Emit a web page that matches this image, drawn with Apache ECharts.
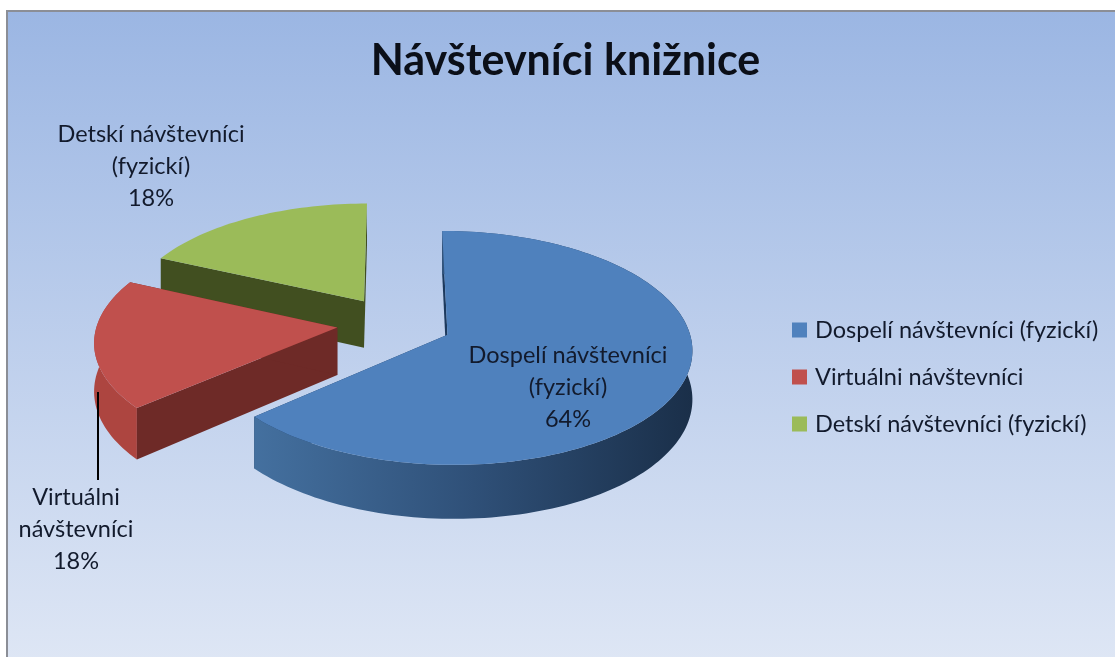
<!DOCTYPE html>
<html>
<head>
<meta charset="utf-8">
<style>
  html, body { margin: 0; padding: 0; background: #fff; }
  #chart { width: 1115px; height: 657px; }
</style>
<script src="https://cdn.jsdelivr.net/npm/echarts@6/dist/echarts.min.js"></script>
</head>
<body>
<div id="chart"></div>
<script>
const chartTitle = 'Návštevníci knižnice'
const categories = ['Dospelí návštevníci (fyzickí)', 'Virtuálni návštevníci', 'Detskí návštevníci (fyzickí)']
const values = [63.6, 18.2, 18.2]
const labelLines = [
  ['Dospelí návštevníci', '(fyzickí)'],
  ['Virtuálni', 'návštevníci'],
  ['Detskí návštevníci', '(fyzickí)']
]

const FONT = 'Lato'
const TEXT = '#121a2c'
const topColors = ['#4f81bd', '#c0504d', '#9bbb59']
const radialColors = ['#1d3a5e', '#6e2a27', '#414f20']
const labelPos = [[568, 387], [76, 529], [151, 166]]

// pie projection: flat disk seen at an angle, front edge nearer the viewer
const pie = { cx: 394.5, cy: 323.5, rx: 240, ry: 113, persp: 0.11, depth: 47.5, explode: 0.24 }

const total = values.reduce((a, b) => a + b, 0)
const slices = []
let acc = 0
values.forEach((v) => {
  const start = acc / total * Math.PI * 2
  acc += v
  slices.push({ start, end: acc / total * Math.PI * 2 })
})

function project(x, y, drop) {
  const s = 1 / (1 - pie.persp * y)
  return [pie.cx + pie.rx * x * s, pie.cy + pie.ry * y * s + (drop || 0) * s]
}

function sliceGeom(i) {
  const { start, end } = slices[i]
  const mid = (start + end) / 2
  const ox = Math.sin(mid) * pie.explode
  const oy = -Math.cos(mid) * pie.explode
  const arc = []
  const n = Math.ceil((end - start) / (Math.PI / 120))
  for (let k = 0; k <= n; k++) {
    const a = start + (end - start) * k / n
    arc.push([ox + Math.sin(a), oy - Math.cos(a)])
  }
  return { ox, oy, arc }
}

function poly(points, fill, z2) {
  return { type: 'polygon', z2, shape: { points }, style: { fill } }
}

function renderSlice(i) {
  return function () {
    const { ox, oy, arc } = sliceGeom(i)
    const children = []
    const apexTop = project(ox, oy)
    const apexBot = project(ox, oy, pie.depth)
    const topArc = arc.map((p) => project(p[0], p[1]))
    const botArc = arc.map((p) => project(p[0], p[1], pie.depth))
    const last = topArc.length - 1

    // radial walls
    children.push(poly([apexTop, topArc[0], botArc[0], apexBot], radialColors[i], 1))
    children.push(poly([apexTop, topArc[last], botArc[last], apexBot], radialColors[i], 1))

    // outer wall, the green slice only has its back to us
    if (i < 2) {
      const sideFill = i === 0
        ? new echarts.graphic.LinearGradient(0, 0, 1, 0, [
          { offset: 0, color: '#44709f' },
          { offset: 0.5, color: '#2f5078' },
          { offset: 1, color: '#1a2f49' }
        ])
        : '#ad4540'
      children.push(poly(topArc.concat(botArc.slice().reverse()), sideFill, i === 1 ? 0 : 2))
    }

    // top face
    children.push(poly([apexTop].concat(topArc), topColors[i], 3))

    // data label
    const pct = Math.round(values[i] / total * 100) + '%'
    children.push({
      type: 'text',
      z2: 5,
      x: labelPos[i][0],
      y: labelPos[i][1],
      style: {
        text: labelLines[i].concat(pct).join('\n'),
        font: '23.5px ' + FONT,
        fill: TEXT,
        align: 'center',
        verticalAlign: 'middle',
        lineHeight: 32
      }
    })
    if (i === 1) {
      children.push({
        type: 'line',
        z2: 4,
        shape: { x1: 98, y1: 392, x2: 98, y2: 480 },
        style: { stroke: '#000', lineWidth: 2 }
      })
    }
    return { type: 'group', children }
  }
}

const chart = echarts.init(document.getElementById('chart'))
chart.setOption({
  animation: false,
  backgroundColor: '#fff',
  title: {
    text: chartTitle,
    left: 560.5,
    top: 35,
    textAlign: 'center',
    textStyle: { fontFamily: FONT, fontSize: 43, fontWeight: 'bold', color: '#0b0f18' }
  },
  legend: {
    orient: 'vertical',
    left: 787,
    top: 311,
    itemGap: 19,
    itemWidth: 15,
    itemHeight: 15,
    icon: 'rect',
    selectedMode: false,
    textStyle: { fontFamily: FONT, fontSize: 23.5, lineHeight: 28, color: TEXT, padding: [0, 0, 0, 3] },
    data: categories.map((name, i) => ({ name, itemStyle: { color: topColors[i] } }))
  },
  graphic: [{
    type: 'rect',
    z: -10,
    shape: { x: 7, y: 11, width: 1120, height: 660 },
    style: {
      fill: new echarts.graphic.LinearGradient(0, 0, 0, 1, [
        { offset: 0, color: '#9bb6e3' },
        { offset: 1, color: '#dfe7f5' }
      ]),
      stroke: '#8b8e96',
      lineWidth: 2
    }
  }],
  // far slices first so the nearer ones sit on top
  series: [2, 1, 0].map((i) => ({
    type: 'custom',
    name: categories[i],
    coordinateSystem: 'none',
    itemStyle: { color: topColors[i] },
    renderItem: renderSlice(i),
    data: [[values[i]]],
    silent: true
  }))
})
</script>
</body>
</html>
